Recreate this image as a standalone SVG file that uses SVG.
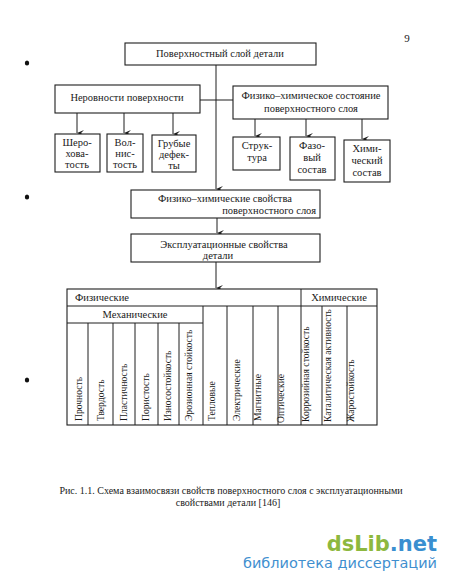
<svg xmlns="http://www.w3.org/2000/svg" width="450" height="582" viewBox="0 0 450 582">
<style>
.b{fill:#fff;stroke:#1e1e1e;stroke-width:1.1}
.l{fill:none;stroke:#1e1e1e;stroke-width:1}
.t{font-family:"Liberation Serif",serif;font-size:10.5px;fill:#1a1a1a;text-anchor:middle}
.s{font-family:"Liberation Serif",serif;font-size:9.6px;fill:#1a1a1a}
.c{font-family:"Liberation Serif",serif;font-size:10px;fill:#1a1a1a;text-anchor:middle}
</style>
<defs>
<marker id="a" markerWidth="6" markerHeight="8" refX="3" refY="7" orient="auto-start-reverse" markerUnits="userSpaceOnUse" viewBox="0 0 6 8">
<path d="M0,0 L3,7 L6,0 L3,3 Z" fill="#1e1e1e"/>
</marker>
</defs>
<rect width="450" height="582" fill="#fff"/>
<text x="407" y="42" class="t" style="font-size:11px">9</text>
<g id="dots" fill="#111">
<ellipse cx="27" cy="63" rx="2.2" ry="2.5"/>
<ellipse cx="27" cy="197" rx="2.2" ry="2.5"/>
<ellipse cx="27" cy="380" rx="2.2" ry="2.5"/>
</g>
<g id="connectors">
<path class="l" d="M216,65 V189" marker-end="url(#a)"/>
<path class="l" d="M200,100 H233"/>
<path class="l" d="M77,113 V133" marker-end="url(#a)"/>
<path class="l" d="M124,113 V133" marker-end="url(#a)"/>
<path class="l" d="M173,113 V134" marker-end="url(#a)"/>
<path class="l" d="M255,119 V136" marker-end="url(#a)"/>
<path class="l" d="M306,119 V136" marker-end="url(#a)"/>
<path class="l" d="M362,119 V139" marker-end="url(#a)"/>
<path class="l" d="M217,218 V233" marker-end="url(#a)"/>
<path class="l" d="M216,262 V288" marker-end="url(#a)"/>
</g>
<g id="n-top"><rect class="b" x="125" y="43" width="191" height="22"/><text class="t" x="220" y="57">Поверхностный слой детали</text></g>
<g id="n-ner"><rect class="b" x="55" y="85" width="145" height="28"/><text class="t" x="127" y="101">Неровности поверхности</text></g>
<g id="n-fhs"><rect class="b" x="233" y="86" width="155" height="33"/><text class="t" x="311" y="99">Физико–химическое состояние</text><text class="t" x="311" y="112">поверхностного слоя</text></g>
<g id="n-sher"><rect class="b" x="55" y="134" width="45" height="38"/><text class="t" x="77" y="146">Шеро-</text><text class="t" x="77" y="157">хова-</text><text class="t" x="77" y="168">тость</text></g>
<g id="n-vol"><rect class="b" x="107" y="134" width="36" height="38"/><text class="t" x="125" y="146">Вол-</text><text class="t" x="125" y="157">нис-</text><text class="t" x="125" y="168">тость</text></g>
<g id="n-grub"><rect class="b" x="152" y="135" width="44" height="37"/><text class="t" x="174" y="147">Грубые</text><text class="t" x="174" y="158">дефек-</text><text class="t" x="174" y="169">ты</text></g>
<g id="n-str"><rect class="b" x="233" y="137" width="47" height="33"/><text class="t" x="257" y="149">Струк-</text><text class="t" x="257" y="161">тура</text></g>
<g id="n-faz"><rect class="b" x="290" y="137" width="45" height="43"/><text class="t" x="312" y="149">Фазо-</text><text class="t" x="312" y="161">вый</text><text class="t" x="312" y="173">состав</text></g>
<g id="n-him"><rect class="b" x="344" y="140" width="46" height="42"/><text class="t" x="367" y="152">Хими-</text><text class="t" x="367" y="164">ческий</text><text class="t" x="367" y="176">состав</text></g>
<g id="n-fhsv"><rect class="b" x="131" y="190" width="189" height="28"/><text class="t" x="225" y="202">Физико–химические свойства</text><text class="t" x="316" y="214" style="text-anchor:end">поверхностного слоя</text></g>
<g id="n-expl"><rect class="b" x="131" y="234" width="189" height="28"/><text class="t" x="224" y="248">Эксплуатационные свойства</text><text class="t" x="218" y="259">детали</text></g>
<g id="table">
<rect class="b" x="67" y="289" width="310" height="136"/>
<path class="l" d="M67,306 H377 M67,323 H203 M203,306 V425 M301,289 V425 M88,323 V425 M113,323 V425 M135,323 V425 M158,323 V425 M179,323 V425 M227,306 V425 M253,306 V425 M278,306 V425 M322,306 V425 M347,306 V425"/>
<text class="t" x="75" y="301" style="text-anchor:start">Физические</text>
<text class="t" x="135" y="318">Механические</text>
<text class="t" x="339" y="301">Химические</text>
<g class="s">
<text transform="translate(81.5,421) rotate(-90)">Прочность</text>
<text transform="translate(103.5,421) rotate(-90)">Твердость</text>
<text transform="translate(126.5,421) rotate(-90)">Пластичность</text>
<text transform="translate(148.5,421) rotate(-90)">Пористость</text>
<text transform="translate(170.5,421) rotate(-90)">Износостойкость</text>
<text transform="translate(191.5,421) rotate(-90)">Эрозионная стойкость</text>
<text transform="translate(214.5,421) rotate(-90)">Тепловые</text>
<text transform="translate(239.5,421) rotate(-90)">Электрические</text>
<text transform="translate(260.5,421) rotate(-90)">Магнитные</text>
<text transform="translate(284,423) rotate(-90)">Оптические</text>
<text transform="translate(308.5,422) rotate(-90)">Коррозийная стойкость</text>
<text transform="translate(330.5,422) rotate(-90)">Каталитическая активность</text>
<text transform="translate(353.5,422) rotate(-90)">Жаростойкость</text>
</g>
</g>
<text class="c" x="231" y="494">Рис. 1.1. Схема взаимосвязи свойств поверхностного слоя с эксплуатационными</text>
<text class="c" x="228" y="506">свойствами детали [146]</text>
<text x="437" y="551" style="font-family:'DejaVu Sans',sans-serif;font-size:21px;font-weight:bold;text-anchor:end"><tspan fill="#8db83e">dsLib</tspan><tspan fill="#3a8fd0">.net</tspan></text>
<text x="437" y="568" style="font-family:'DejaVu Sans',sans-serif;font-size:14.5px;fill:#3f8fcf;text-anchor:end">библиотека диссертаций</text>
</svg>
